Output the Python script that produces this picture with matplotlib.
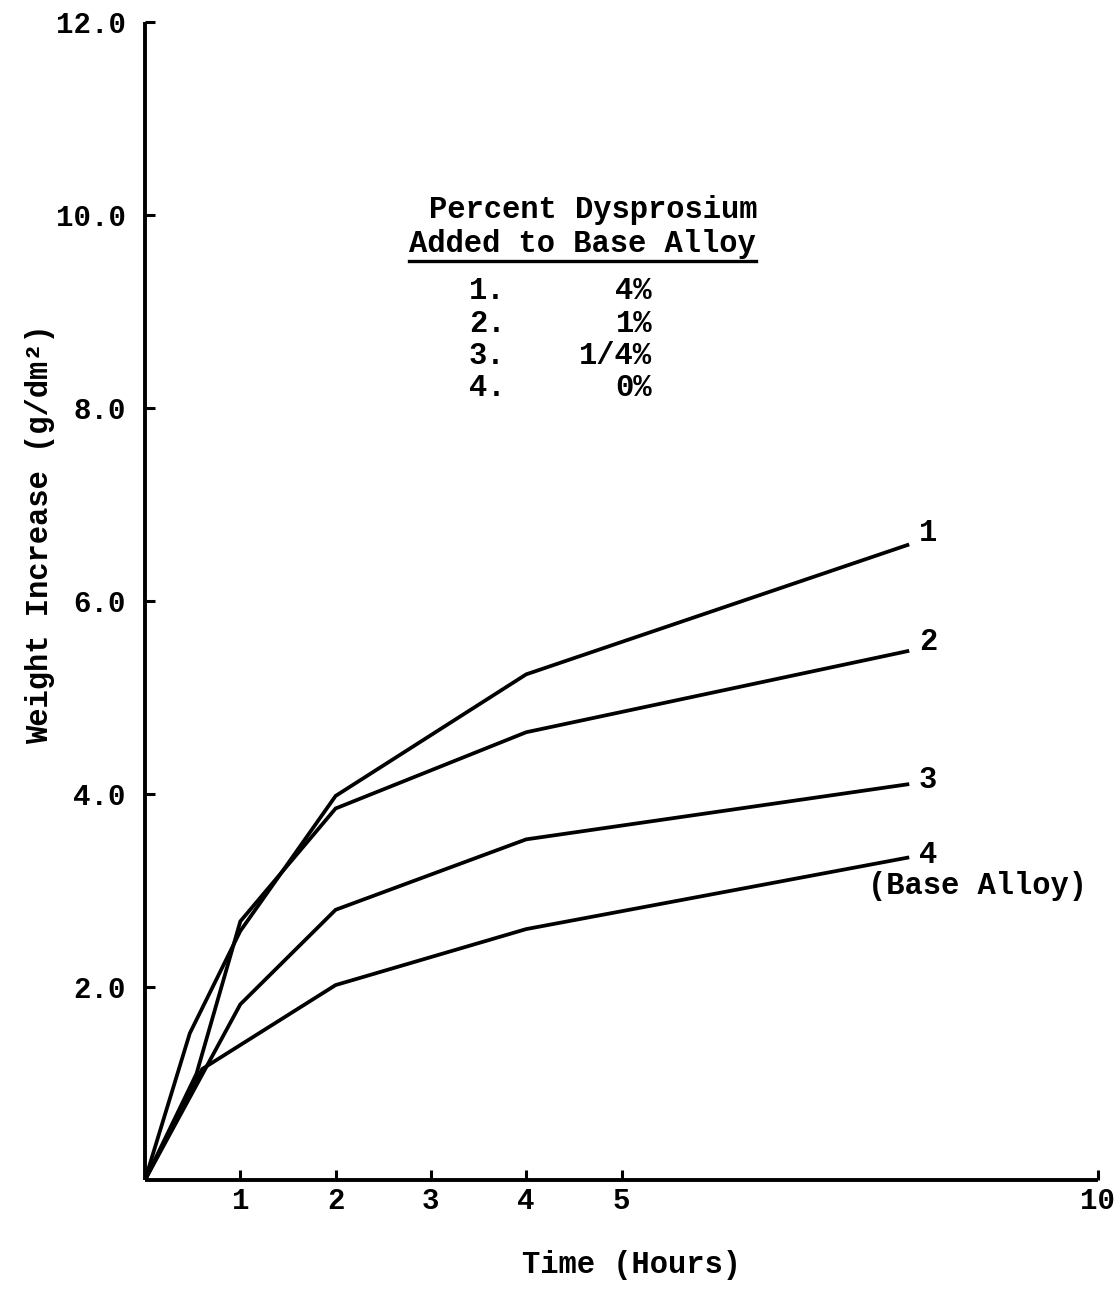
import matplotlib
matplotlib.use("Agg")
import matplotlib.pyplot as plt
from matplotlib.lines import Line2D

# ---- data ----
t1 = [0, 0.47, 1, 2, 4, 8]
y1 = [0, 1.52, 2.58, 3.98, 5.24, 6.58]
t2 = [0, 0.54, 1, 2, 4, 8]
y2 = [0, 1.10, 2.68, 3.85, 4.64, 5.48]
t3 = [0, 1, 2, 4, 8]
y3 = [0, 1.82, 2.80, 3.53, 4.10]
t4 = [0, 0.60, 2, 4, 8]
y4 = [0, 1.15, 2.02, 2.60, 3.34]
series = [(t1, y1, "1"), (t2, y2, "2"), (t3, y3, "3"), (t4, y4, "4")]

xticks = [1, 2, 3, 4, 5, 10]
xticklabels = ["1", "2", "3", "4", "5", "10"]
yticks = [2, 4, 6, 8, 10, 12]
yticklabels = ["2.0", "4.0", "6.0", "8.0", "10.0", "12.0"]

legend_title1 = "Percent Dysprosium"
legend_title2 = "Added to Base Alloy"
legend_nums = ["1.", "2.", "3.", "4."]
legend_pcts = ["4%", "1%", "1/4%", "0%"]

FONT = "Liberation Mono"
plt.rcParams["font.family"] = [FONT, "DejaVu Sans Mono"]
plt.rcParams["font.weight"] = "bold"

fig = plt.figure(figsize=(11.2, 12.92), dpi=100)
ax = fig.add_axes([145 / 1120, 112 / 1292, 953 / 1120, 1158 / 1292])

for t, y, lab in series:
    ax.plot(t, y, color="black", lw=2.7, solid_joinstyle="miter")

ax.set_xlim(0, 10)
ax.set_ylim(0, 12)
ax.set_xticks(xticks)
ax.set_xticklabels(xticklabels)
ax.set_yticks(yticks)
ax.set_yticklabels(yticklabels)
ax.tick_params(axis="both", direction="in", length=7, width=2.2, labelsize=21, color="black")
ax.tick_params(axis="y", pad=14)
ax.tick_params(axis="x", pad=5)
for lbl in ax.get_xticklabels() + ax.get_yticklabels():
    lbl.set_fontweight("bold")

for s in ["top", "right"]:
    ax.spines[s].set_visible(False)
for s in ["left", "bottom"]:
    ax.spines[s].set_linewidth(2.8)
    ax.spines[s].set_capstyle("butt")

# line labels
ax.text(8.12, 6.70, "1", fontsize=22, fontweight="bold", ha="left", va="center")
ax.text(8.12, 5.58, "2", fontsize=22, fontweight="bold", ha="left", va="center")
ax.text(8.12, 4.14, "3", fontsize=22, fontweight="bold", ha="left", va="center")
ax.text(8.12, 3.37, "4", fontsize=22, fontweight="bold", ha="left", va="center")
ax.text(8.74, 3.05, "(Base Alloy)", fontsize=22, fontweight="bold", ha="center", va="center")

# legend block
ax.text(4.70, 10.05, legend_title1, fontsize=22, fontweight="bold", ha="center", va="center")
t2txt = ax.text(4.59, 9.70, legend_title2, fontsize=22, fontweight="bold", ha="center", va="center")
y0 = 9.21
dy = 0.335
for i, (n, p) in enumerate(zip(legend_nums, legend_pcts)):
    ax.text(3.40, y0 - i * dy, n, fontsize=22, fontweight="bold", ha="left", va="center")
    ax.text(5.32, y0 - i * dy, p, fontsize=22, fontweight="bold", ha="right", va="center")

# underline under the second title line
fig.canvas.draw()
bb = t2txt.get_window_extent(renderer=fig.canvas.get_renderer())
inv = fig.transFigure.inverted()
(x0f, y0f) = inv.transform((bb.x0, bb.y0 - 2))
(x1f, _) = inv.transform((bb.x1, bb.y0 - 2))
fig.add_artist(Line2D([x0f, x1f], [y0f, y0f], transform=fig.transFigure, color="black", lw=2.4))

# axis titles
fig.text(632 / 1120, 1 - 1265 / 1292, "Time (Hours)", fontsize=22, fontweight="bold", ha="center", va="center")
fig.text(40 / 1120, 1 - 534 / 1292, "Weight Increase (g/dm²)", fontsize=22, fontweight="bold",
         ha="center", va="center", rotation=90)

fig.savefig("out.png", dpi=100, facecolor="white")
